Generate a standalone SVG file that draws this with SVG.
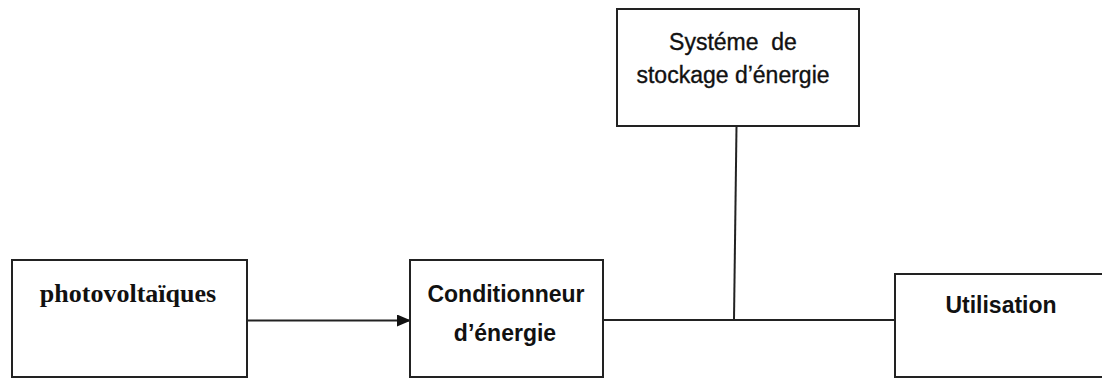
<svg xmlns="http://www.w3.org/2000/svg" width="1102" height="378" viewBox="0 0 1102 378">
  <style>
    .box { fill: #ffffff; stroke: #222222; stroke-width: 2; }
    .edge { fill: none; stroke: #222222; stroke-width: 2; }
    .lbl { font-family: "Liberation Sans", Arial, sans-serif; font-size: 23px; fill: #111111; text-anchor: middle; }
    .bold { font-weight: bold; }
    .med { stroke: #111111; stroke-width: 0.35; }
    .serif { font-family: "Liberation Serif", "Times New Roman", serif; font-weight: bold; font-size: 26px; }
  </style>
  <defs>
    <marker id="arrow" markerWidth="14" markerHeight="12" refX="13" refY="6" orient="auto" markerUnits="userSpaceOnUse">
      <path d="M0,0 L14,6 L0,12 Z" fill="#111111"/>
    </marker>
  </defs>
  <rect width="1102" height="378" fill="#ffffff"/>

  <g id="connectors">
    <line class="edge" x1="247" y1="320.5" x2="410" y2="320.5" marker-end="url(#arrow)"/>
    <line class="edge" x1="603" y1="320" x2="895" y2="320"/>
    <line class="edge" x1="736.5" y1="126" x2="734" y2="320"/>
  </g>

  <g id="photovoltaiques">
    <rect class="box" x="12" y="260" width="235" height="117"/>
    <text class="lbl serif" x="128" y="302">photovoltaïques</text>
  </g>

  <g id="conditionneur">
    <rect class="box" x="410" y="260" width="193" height="117"/>
    <text class="lbl bold" x="506" y="302">Conditionneur</text>
    <text class="lbl bold" x="505" y="341">d’énergie</text>
  </g>

  <g id="stockage">
    <rect class="box" x="617" y="9" width="242" height="117"/>
    <text class="lbl med" x="733" y="50" xml:space="preserve">Systéme  de</text>
    <text class="lbl med" x="733" y="83">stockage d’énergie</text>
  </g>

  <g id="utilisation">
    <rect class="box" x="895" y="274" width="220" height="103"/>
    <text class="lbl bold" x="1001" y="313">Utilisation</text>
  </g>
</svg>
